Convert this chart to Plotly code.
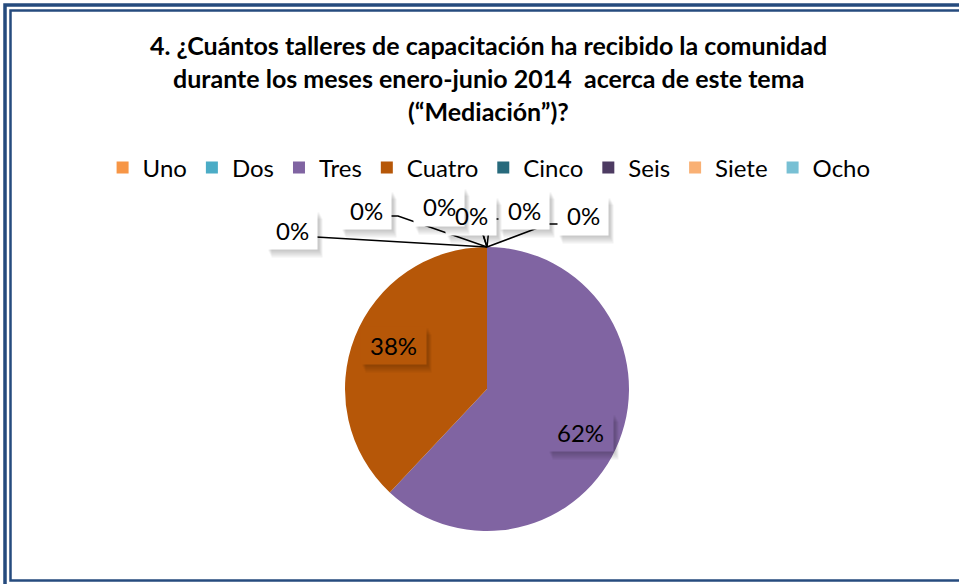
import math
import plotly.graph_objects as go

# data
CATEGORIES = ['Uno', 'Dos', 'Tres', 'Cuatro', 'Cinco', 'Seis', 'Siete', 'Ocho']
PERCENTS = [0, 0, 62, 38, 0, 0, 0, 0]
COLORS = ['#F79646', '#4BACC6', '#8064A2', '#B65708',
          '#276A7C', '#4D3B62', '#F9B074', '#78C0D4']
TITLE_LINES = ['4. ¿Cuántos talleres de capacitación ha recibido la comunidad',
               'durante los meses enero-junio 2014  acerca de este tema',
               '(“Mediación”)?']

W, H = 959, 584
FONT = 'Lato'
BORDER = '#264B7E'

# pie geometry in pixels
CX, CY, R = 487, 389, 142
# where Excel parked the 0% labels (pixel centres) and their leader elbows
ZERO_LABEL_POS = {
    'Uno': ((524, 210), [(500, 219), (490, 219)]),
    'Dos': ((583, 216), [(558, 224), (548, 224)]),
    'Cinco': ((471, 216), [(479, 222)]),
    'Seis': ((439, 207), [(463, 212), (476, 212)]),
    'Siete': ((366, 210), [(390, 216), (398, 216)]),
    'Ocho': ((292, 230), [(316, 237)]),
}


def px(x):
    return x / W


def py(y):
    return 1 - y / H


fig = go.Figure(go.Pie(
    labels=CATEGORIES,
    values=PERCENTS,
    marker=dict(colors=COLORS, line=dict(width=0)),
    sort=False,
    direction='clockwise',
    rotation=0,
    textinfo='none',
    hoverinfo='label+percent',
    domain=dict(x=[px(CX - R), px(CX + R)], y=[py(CY + R), py(CY - R)]),
))

shapes = [
    dict(type='rect', xref='paper', yref='paper', x0=px(5), x1=px(975),
         y0=py(5), y1=py(600), line=dict(color=BORDER, width=3.5)),
    dict(type='rect', xref='paper', yref='paper', x0=px(10.5), x1=px(975),
         y0=py(10.5), y1=py(580.5), line=dict(color=BORDER, width=2.5)),
]
annotations = []


def note(x, y, text='', **kw):
    return dict(x=px(x), y=py(y), xref='paper', yref='paper', text=text,
                showarrow=False, xanchor='center', yanchor='middle', **kw)


# title, one annotation per line so the spacing matches Excel's
for i, line in enumerate(TITLE_LINES):
    annotations.append(note(488, 45 + 33 * i, f'<b>{line}</b>',
                            font=dict(family=FONT, size=25, color='#000000')))


def label(x, y, text, bg, w, h):
    # soft shadow below-right, then the box
    for dx, dy in [(2, -2), (3, -4), (4, -6), (5, -8)]:
        annotations.append(note(x, y, width=w, height=h, bgcolor='rgba(0,0,0,0.055)',
                                xshift=dx, yshift=dy))
    annotations.append(note(x, y, width=w, height=h, bgcolor=bg))
    return note(x, y, text, font=dict(family=FONT, size=24, color='#000000'))


texts = []
total = sum(PERCENTS)
start = 0
top = (CX, CY - R)
for cat, val, col in zip(CATEGORIES, PERCENTS, COLORS):
    pct = f'{round(100 * val / total)}%'
    if val == 0:
        (lx, ly), elbows = ZERO_LABEL_POS[cat]
        pts = elbows + [top]
        path = 'M ' + ' L '.join(f'{px(a)},{py(b)}' for a, b in pts)
        shapes.append(dict(type='path', xref='paper', yref='paper', path=path,
                           line=dict(color='#000000', width=1.5)))
        texts.append(label(lx, ly, pct, '#FFFFFF', 48, 36))
    else:
        mid = 2 * math.pi * (start + val / 2) / total
        lx = CX + 0.71 * R * math.sin(mid)
        ly = CY - 0.71 * R * math.cos(mid) + 6 * math.copysign(1, math.sin(mid))
        texts.append(label(lx, ly, pct, col, 63, 35))
    start += val

annotations += texts

fig.update_layout(
    width=W,
    height=H,
    margin=dict(l=0, r=0, t=0, b=0),
    paper_bgcolor='#FFFFFF',
    plot_bgcolor='#FFFFFF',
    font=dict(family=FONT, color='#000000'),
    legend=dict(orientation='h', x=0.51, xanchor='center', y=py(168),
                yanchor='middle', font=dict(family=FONT, size=24, color='#000000'),
                itemclick=False, traceorder='normal'),
    shapes=shapes,
    annotations=annotations,
)

fig.write_html("out.html", config={'displayModeBar': False},
               post_script="document.body.style.margin = '0px';")
